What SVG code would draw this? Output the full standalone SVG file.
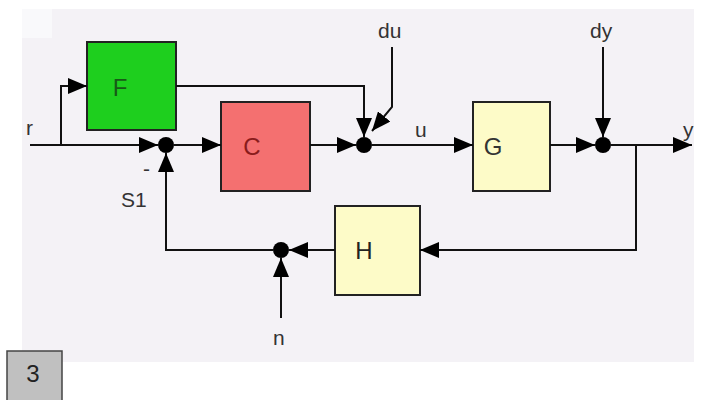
<svg xmlns="http://www.w3.org/2000/svg" width="707" height="400" viewBox="0 0 707 400">
<defs>
<style>
.blk{stroke:#222;stroke-width:2}
.lbl{font-family:"Liberation Sans",Arial,sans-serif;font-size:21px;fill:#333}
.blbl{font-family:"Liberation Sans",Arial,sans-serif;font-size:24px;text-anchor:middle}
.wire{fill:none;stroke:#111;stroke-width:2}
.arr{marker-end:url(#ah)}
.dot{fill:#000}
</style>
<marker id="ah" markerUnits="userSpaceOnUse" markerWidth="19" markerHeight="16" refX="19" refY="8" orient="auto">
<path d="M0,0 L19,8 L0,16 z" fill="#000"/>
</marker>
</defs>
<rect width="707" height="400" fill="#fff"/>
<rect x="22" y="9" width="672" height="353" fill="#f4f2f6"/>
<rect x="22" y="9" width="30" height="29" fill="#f9f9fb"/>

<g id="F"><rect class="blk" x="87" y="42" width="89" height="88" fill="#1ecf1e"/><text class="blbl" x="120" y="96" fill="#175a17">F</text></g>
<g id="C"><rect class="blk" x="221" y="102" width="89" height="89" fill="#f47070"/><text class="blbl" x="252" y="155" fill="#8a1c1c">C</text></g>
<g id="G"><rect class="blk" x="473" y="102" width="77" height="89" fill="#fdfbc8"/><text class="blbl" x="493" y="155" fill="#333">G</text></g>
<g id="H"><rect class="blk" x="335" y="206" width="85" height="89" fill="#fdfbc8"/><text class="blbl" x="364" y="259" fill="#222">H</text></g>
<g id="S1"><circle class="dot" cx="166" cy="145" r="8"/><text class="lbl" x="121" y="207">S1</text><text class="lbl" x="143" y="176">-</text></g>
<g id="sum2"><circle class="dot" cx="364" cy="145" r="8"/></g>
<g id="sum3"><circle class="dot" cx="603" cy="145" r="8"/></g>
<g id="sum4"><circle class="dot" cx="281" cy="250" r="8"/></g>
<g id="box3"><rect x="7" y="351" width="55" height="52" fill="#c0c0c0" stroke="#444" stroke-width="1.5"/><text x="33" y="382" font-family="Liberation Sans,Arial,sans-serif" font-size="24" text-anchor="middle" fill="#222">3</text></g>

<g id="labels">
<text class="lbl" x="26" y="135">r</text>
<text class="lbl" x="378" y="38">du</text>
<text class="lbl" x="590" y="38">dy</text>
<text class="lbl" x="415" y="137">u</text>
<text class="lbl" x="683" y="137">y</text>
<text class="lbl" x="273" y="345">n</text>
</g>

<g id="connectors">
<path class="wire arr" d="M30,145 H158"/>
<path class="wire arr" d="M61,145 V86 H87"/>
<path class="wire arr" d="M174,145 H221"/>
<path class="wire arr" d="M310,145 H356"/>
<path class="wire arr" d="M176,86 H364 V137"/>
<path class="wire arr" d="M392,47 V107 L372,131"/>
<path class="wire arr" d="M372,145 H473"/>
<path class="wire arr" d="M550,145 H595"/>
<path class="wire arr" d="M603,47 V137"/>
<path class="wire arr" d="M611,145 H692"/>
<path class="wire arr" d="M636,145 V250 H420"/>
<path class="wire arr" d="M335,250 H289"/>
<path class="wire arr" d="M281,318 V258"/>
<path class="wire arr" d="M273,250 H166 V153"/>
</g>
</svg>
